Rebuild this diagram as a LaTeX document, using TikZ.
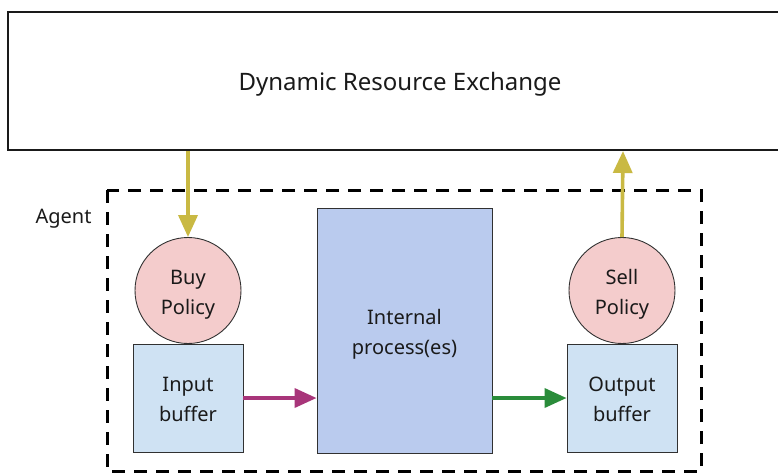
\documentclass[tikz,border=0pt]{standalone}
\usepackage{fontspec}
\setmainfont{Noto Sans}
\usetikzlibrary{arrows.meta}
\definecolor{policyfill}{HTML}{F4CCCC}
\definecolor{bufferfill}{HTML}{CFE2F3}
\definecolor{procfill}{HTML}{BACBEE}
\definecolor{flowyellow}{HTML}{C9B943}
\definecolor{flowmagenta}{HTML}{A8357A}
\definecolor{flowgreen}{HTML}{2A8C3A}
\definecolor{ink}{HTML}{1A1A1A}
\tikzset{
  txt/.style={align=center, font=\fontsize{20}{30}\selectfont, text=ink, inner sep=0pt},
  caption/.style={label={[txt, yshift=-4pt]center:{#1}}},
  lowcaption/.style={label={[txt, yshift=-1.5pt]center:{#1}}},
  policy/.style={circle, draw=ink!90, line width=0.9pt, fill=policyfill,
    minimum size=106pt, inner sep=0pt},
  bufferbox/.style={rectangle, draw=ink!90, line width=0.9pt, fill=bufferfill,
    minimum width=110pt, minimum height=108pt, inner sep=0pt},
  procbox/.style={rectangle, draw=ink!90, line width=0.9pt, fill=procfill,
    minimum width=175pt, minimum height=245pt, inner sep=0pt},
  flow/.style={line width=3.6pt, -{Triangle[length=22pt,width=19pt]}},
}
\begin{document}
\begin{tikzpicture}[x=1pt, y=-1pt]
  \useasboundingbox (0,0) rectangle (778,475);
  \begin{scope}
    \clip (0,0) rectangle (778,475);
    % exchange box (runs off the right edge)
    \draw[line width=2pt, draw=ink] (8,12) rectangle (800,150);
    \node[font=\fontsize{24}{28}\selectfont, text=ink] (dre) at (400,84) {Dynamic Resource Exchange};
    \coordinate (dreBuy) at (188,151);
    \coordinate (dreSell) at (623,151);
    % agent boundary
    \draw[line width=3pt, dash pattern=on 13pt off 9pt] (107,190) rectangle (701,471);
    \node[font=\fontsize{20}{24}\selectfont, text=ink, anchor=west] (agent) at (32,219) {Agent};
    % components
    \node[bufferbox, lowcaption={Input\\buffer}] (inbuf) at (188,398) {};
    \node[bufferbox, lowcaption={Output\\buffer}] (outbuf) at (622,398) {};
    \node[policy, caption={Buy\\Policy}] (buy) at (188,290.5) {};
    \node[policy, caption={Sell\\Policy}] (sell) at (622,290.5) {};
    \node[procbox, caption={Internal\\process(es)}] (proc) at (404.5,330.5) {};
    % flows
    \draw[flow, flowyellow] (dreBuy) -- (buy.north);
    \draw[flow, flowyellow] (sell.north) -- (dreSell);
    \draw[flow, flowmagenta] (inbuf.east |- 0,398) -- (proc.west |- 0,398);
    \draw[flow, flowgreen] (proc.east |- 0,398) -- (outbuf.west |- 0,398);
  \end{scope}
\end{tikzpicture}
\end{document}
